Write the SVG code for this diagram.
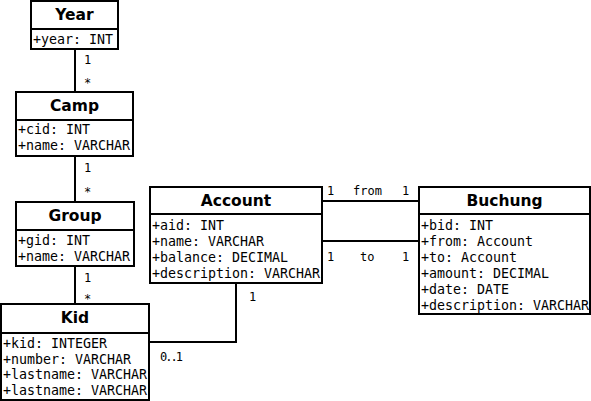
<svg xmlns="http://www.w3.org/2000/svg" width="591" height="401" viewBox="0 0 591 401">
<style>
.box{fill:#fff;stroke:#000;stroke-width:2}
.title{font-family:"DejaVu Sans",sans-serif;font-weight:bold;font-size:15.5px;text-anchor:middle;fill:#000}
.attr{font-family:"DejaVu Sans Mono",monospace;font-size:13.3px;fill:#000}
.mult{font-family:"DejaVu Sans Mono",monospace;font-size:12px;fill:#000}
.conn{fill:none;stroke:#000;stroke-width:2}
</style>
<rect width="591" height="401" fill="#fff"/>
<g id="connectors">
<line class="conn" x1="75" y1="49" x2="75" y2="92"/>
<line class="conn" x1="75" y1="156" x2="75" y2="202"/>
<line class="conn" x1="75" y1="266" x2="75" y2="304"/>
<polyline class="conn" points="236,283 236,342 150,342"/>
<line class="conn" x1="322" y1="201" x2="419" y2="201"/>
<line class="conn" x1="322" y1="241" x2="419" y2="241"/>
<text class="mult" x="84" y="64">1</text>
<text class="mult" x="84" y="87">*</text>
<text class="mult" x="84" y="172">1</text>
<text class="mult" x="84" y="196">*</text>
<text class="mult" x="84" y="282">1</text>
<text class="mult" x="84" y="303">*</text>
<text class="mult" x="249" y="301">1</text>
<text class="mult" x="160" y="361" textLength="23" lengthAdjust="spacing">0..1</text>
<text class="mult" x="327" y="195">1</text>
<text class="mult" x="353" y="195">from</text>
<text class="mult" x="402" y="195">1</text>
<text class="mult" x="327" y="261">1</text>
<text class="mult" x="360" y="261">to</text>
<text class="mult" x="402" y="261">1</text>
</g>
<g id="year">
<rect class="box" x="31" y="1" width="87" height="48"/>
<line class="box" x1="31" y1="29" x2="118" y2="29"/>
<text class="title" x="74.5" y="20">Year</text>
<text class="attr" x="33" y="44">+year: INT</text>
</g>
<g id="camp">
<rect class="box" x="16" y="92" width="117" height="64"/>
<line class="box" x1="16" y1="120" x2="133" y2="120"/>
<text class="title" x="74.5" y="111">Camp</text>
<text class="attr" x="18" y="134">+cid: INT</text>
<text class="attr" x="18" y="150">+name: VARCHAR</text>
</g>
<g id="group">
<rect class="box" x="16" y="202" width="118" height="64"/>
<line class="box" x1="16" y1="230" x2="134" y2="230"/>
<text class="title" x="75" y="221">Group</text>
<text class="attr" x="18" y="245">+gid: INT</text>
<text class="attr" x="18" y="261">+name: VARCHAR</text>
</g>
<g id="kid">
<rect class="box" x="1" y="304" width="148" height="96"/>
<line class="box" x1="1" y1="333" x2="149" y2="333"/>
<text class="title" x="75" y="323">Kid</text>
<text class="attr" x="3" y="348">+kid: INTEGER</text>
<text class="attr" x="3" y="364">+number: VARCHAR</text>
<text class="attr" x="3" y="379">+lastname: VARCHAR</text>
<text class="attr" x="3" y="395">+lastname: VARCHAR</text>
</g>
<g id="account">
<rect class="box" x="150" y="187" width="172" height="96"/>
<line class="box" x1="150" y1="214" x2="322" y2="214"/>
<text class="title" x="236" y="206">Account</text>
<text class="attr" x="152" y="230">+aid: INT</text>
<text class="attr" x="152" y="246">+name: VARCHAR</text>
<text class="attr" x="152" y="262">+balance: DECIMAL</text>
<text class="attr" x="152" y="278">+description: VARCHAR</text>
</g>
<g id="buchung">
<rect class="box" x="419" y="187" width="171" height="127"/>
<line class="box" x1="419" y1="214" x2="590" y2="214"/>
<text class="title" x="504.5" y="206">Buchung</text>
<text class="attr" x="421" y="230">+bid: INT</text>
<text class="attr" x="421" y="246">+from: Account</text>
<text class="attr" x="421" y="262">+to: Account</text>
<text class="attr" x="421" y="278">+amount: DECIMAL</text>
<text class="attr" x="421" y="294">+date: DATE</text>
<text class="attr" x="421" y="310">+description: VARCHAR</text>
</g>
</svg>
